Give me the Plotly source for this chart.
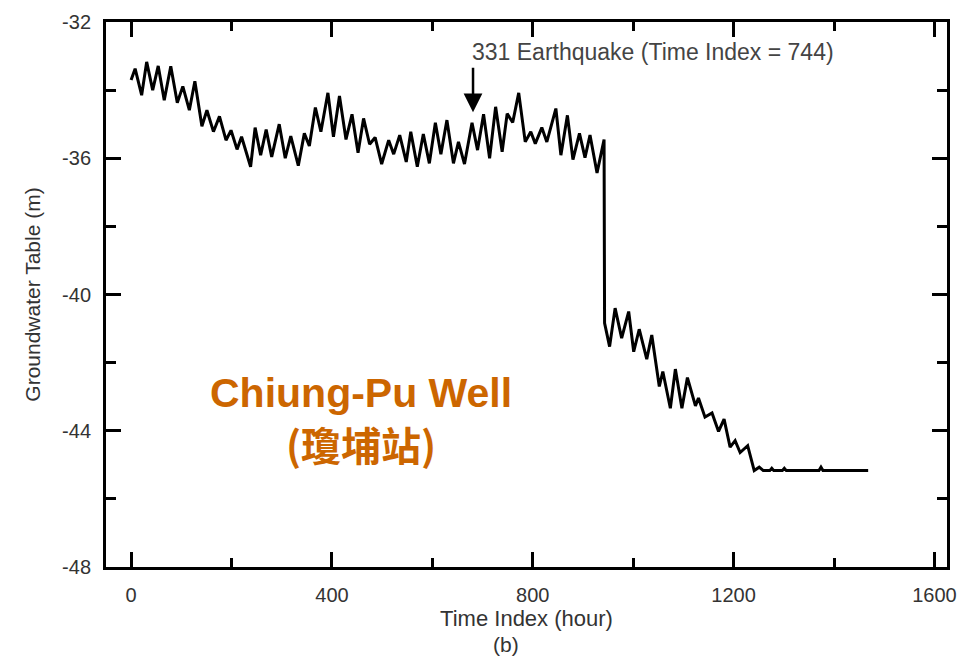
import plotly.graph_objects as go

# Time index (hour) of read turning points, and groundwater table (m)
time_hr = [0, 8, 21, 31, 43, 54, 66, 79, 92, 103, 116, 127, 141, 151, 164, 176, 189, 199,
           211, 220, 238, 247, 258, 269, 280, 295, 307, 318, 333, 345, 355, 367, 378, 392,
           403, 415, 428, 440, 452, 463, 475, 486, 499, 513, 523, 535, 548, 557, 570, 582,
           594, 606, 617, 629, 642, 652, 664, 679, 690, 702, 714, 726, 739, 749, 760, 772,
           785, 796, 805, 818, 828, 846, 856, 869, 880, 893, 904, 914, 928, 942, 943, 953,
           964, 977, 991, 1001, 1012, 1027, 1037, 1052, 1059, 1074, 1084, 1097, 1108, 1124,
           1130, 1143, 1157, 1170, 1181, 1193, 1203, 1213, 1228, 1241, 1251, 1259, 1272,
           1276, 1280, 1297, 1301, 1305, 1370, 1374, 1378, 1468]
level_m = [-33.70, -33.37, -34.15, -33.17, -34.00, -33.29, -34.30, -33.30, -34.37, -33.89,
           -34.59, -33.74, -35.06, -34.59, -35.22, -34.77, -35.47, -35.18, -35.74, -35.37,
           -36.25, -35.10, -35.91, -35.16, -35.96, -35.00, -36.00, -35.35, -36.22, -35.27,
           -35.64, -34.51, -35.22, -34.08, -35.37, -34.17, -35.45, -34.71, -35.84, -34.83,
           -35.59, -35.39, -36.17, -35.47, -35.88, -35.32, -36.11, -35.22, -36.25, -35.29,
           -36.15, -34.96, -35.88, -34.88, -36.15, -35.52, -36.17, -34.96, -35.76, -34.71,
           -36.00, -34.49, -35.81, -34.69, -34.95, -34.08, -35.52, -35.22, -35.57, -35.10,
           -35.52, -34.54, -35.91, -34.74, -36.04, -35.27, -35.98, -35.32, -36.43, -35.45,
           -40.84, -41.53, -40.40, -41.28, -40.50, -41.68, -41.02, -41.90, -41.19, -42.70,
           -42.26, -43.34, -42.19, -43.34, -42.44, -43.27, -43.04, -43.60, -43.48, -44.02,
           -43.66, -44.48, -44.29, -44.64, -44.44, -45.17, -45.07, -45.17, -45.17, -45.10,
           -45.17, -45.17, -45.10, -45.17, -45.17, -45.07, -45.17, -45.17]

x_ticks = [0, 400, 800, 1200, 1600]
y_ticks = [-32, -36, -40, -44, -48]

quake_arrow_t = 681
quake_arrow_v = -34.65

FONT = "Liberation Sans, Arial, sans-serif"
TXT = "#333333"

fig = go.Figure()
fig.add_trace(go.Scatter(x=time_hr, y=level_m, mode="lines",
                         line=dict(color="black", width=3),
                         showlegend=False, hoverinfo="skip"))

axis_common = dict(showgrid=False, zeroline=False, showline=True, linecolor="black",
                   linewidth=3, mirror="ticks", ticks="inside", ticklen=15, tickwidth=2.5,
                   tickcolor="black", tickfont=dict(family=FONT, size=20, color=TXT))

fig.update_xaxes(range=[-50, 1625], tickmode="array", tickvals=x_ticks,
                 ticktext=[str(v) for v in x_ticks],
                 minor=dict(tickmode="array", tickvals=[200, 600, 1000, 1400], ticks="inside",
                            ticklen=9, tickwidth=2.5, tickcolor="black"),
                 title=dict(text="Time Index (hour)", font=dict(family=FONT, size=22, color=TXT),
                            standoff=3),
                 ticklabelstandoff=8, **axis_common)
fig.update_yaxes(range=[-48, -32], tickmode="array", tickvals=y_ticks,
                 ticktext=[str(v) for v in y_ticks],
                 minor=dict(tickmode="array", tickvals=[-34, -38, -42, -46], ticks="inside",
                            ticklen=10, tickwidth=2.5, tickcolor="black"),
                 title=dict(text="Groundwater Table (m)", font=dict(family=FONT, size=21, color=TXT),
                            standoff=16),
                 ticklabelstandoff=8, **axis_common)

fig.add_annotation(x=quake_arrow_t, y=quake_arrow_v, xref="x", yref="y", text="",
                   showarrow=True, arrowhead=2, arrowsize=1.5, arrowwidth=2.5,
                   arrowcolor="black", ax=0, ay=-46)
fig.add_annotation(x=675, y=-32.89, xref="x", yref="y", xanchor="left", yanchor="middle",
                   text="331 Earthquake (Time Index = 744)", showarrow=False,
                   font=dict(family=FONT, size=23, color="#444444"))
fig.add_annotation(x=457, y=-42.89, xref="x", yref="y", text="<b>Chiung-Pu Well</b>",
                   showarrow=False, font=dict(family=FONT, size=41, color="#CC6600"))
fig.add_annotation(x=457, y=-44.38, xref="x", yref="y", text="<b>(瓊埔站)</b>",
                   showarrow=False,
                   font=dict(family="Noto Sans CJK TC, Noto Sans CJK SC, sans-serif", size=40,
                             color="#CC6600"))
fig.add_annotation(x=0.476, y=-0.143, xref="paper", yref="paper", yanchor="middle",
                   text="(b)", showarrow=False, font=dict(family=FONT, size=21, color=TXT))

fig.update_layout(width=974, height=656, margin=dict(l=106, r=27, t=22, b=89),
                  paper_bgcolor="white", plot_bgcolor="white")

fig.write_html("out.html")
